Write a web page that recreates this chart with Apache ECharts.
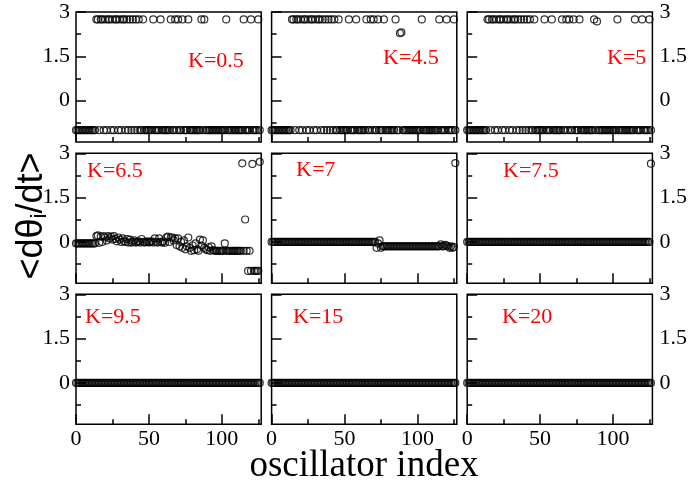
<!DOCTYPE html>
<html><head><meta charset="utf-8">
<script src="https://cdn.jsdelivr.net/npm/echarts@6/dist/echarts.min.js"></script>
<style>html,body{margin:0;padding:0;background:#fff}#c{width:688px;height:485px}</style>
</head><body><div id="c"></div>
<script>
// ---------------- data ----------------
const panelLabels = ['K=0.5','K=4.5','K=5','K=6.5','K=7','K=7.5','K=9.5','K=15','K=20'];
const xTickValues = [0, 50, 100];
const xMinorValues = [25, 75, 125];
const yTickValues = [0, 1.5, 3];
const yMinorValues = [-0.75, 0.75, 2.25];
const xMin = 0, xMax = 127, yMin = -1.4, yMax = 3;
const xTitle = 'oscillator index';

// oscillator indices 0..126
const oscIndex = [];
for (let i = 0; i < 127; i++) oscIndex.push(i);

// top row: two clusters (upper / lower); listed oscillators sit in the upper cluster
const upperLevel = 2.75, lowerLevel = -1.0;
const k05Upper = [14,15,17,18,20,22,23,25,27,28,30,32,33,35,37,39,41,43,46,53,58,65,68,70,73,77,86,88,103,115,120,125];
const k05MidIdx = [], k05MidVal = [];
const k45Upper = [14,15,17,18,20,22,23,25,27,28,30,32,33,35,37,39,41,43,46,53,58,65,68,70,73,77,85,103,115,120,125];
const k45MidIdx = [88, 89], k45MidVal = [2.28, 2.31];
const k5Upper  = [14,15,17,18,20,22,23,25,27,28,30,32,33,35,37,39,41,43,46,53,58,65,68,70,73,77,87,103,115,120,125];
const k5MidIdx = [89], k5MidVal = [2.68];

const k65 = [
 -0.05,-0.05,-0.05,-0.05,-0.05,-0.05,-0.05,-0.05,-0.05,-0.05,
 -0.05,-0.05,-0.05,-0.05,0.2,0.22,-0.03,0.18,0,0.2,
 0.15,0.05,0.2,0.12,0.18,0.08,0.2,0.1,0.02,0.15,
 0.08,0,0.12,0.02,0,0.1,-0.02,0.08,-0.02,0,
 0.05,-0.02,0,0.02,-0.02,0.1,0,-0.02,0,0.02,
 -0.02,0,0.02,-0.02,0.12,0,-0.02,0.12,0,-0.02,
 0.02,-0.03,0.15,0.18,0,0.15,0.15,0.05,0.12,-0.1,
 0.12,-0.15,0,-0.2,0.05,-0.25,-0.15,0.15,-0.2,-0.3,
 -0.12,-0.28,-0.05,-0.25,-0.3,0.08,-0.12,0.05,-0.2,-0.25,
 -0.28,-0.18,-0.3,-0.15,-0.28,-0.3,-0.3,-0.3,-0.3,-0.3,
 -0.3,-0.3,-0.05,-0.3,-0.3,-0.3,-0.3,-0.3,-0.3,-0.3,
 -0.3,-0.3,-0.3,-0.3,2.66,-0.3,0.76,-0.3,-0.98,-0.3,
 -0.98,2.64,-0.98,-0.98,-0.98,-0.98,2.71];

const k7 = [
 0,0,0,0,0,0,0,0,0,0,
 0,0,0,0,0,0,0,0,0,0,
 0,0,0,0,0,0,0,0,0,0,
 0,0,0,0,0,0,0,0,0,0,
 0,0,0,0,0,0,0,0,0,0,
 0,0,0,0,0,0,0,0,0,0,
 0,0,0,0,0,0,0,0,0,0,
 0,0,-0.2,-0.05,0.05,-0.2,-0.15,-0.15,-0.15,-0.15,
 -0.15,-0.15,-0.15,-0.15,-0.15,-0.15,-0.15,-0.15,-0.15,-0.15,
 -0.15,-0.15,-0.15,-0.15,-0.15,-0.15,-0.15,-0.15,-0.15,-0.15,
 -0.15,-0.15,-0.15,-0.15,-0.15,-0.15,-0.15,-0.15,-0.15,-0.15,
 -0.15,-0.15,-0.15,-0.15,-0.15,-0.15,-0.08,-0.15,-0.15,-0.1,
 -0.12,-0.15,-0.2,-0.15,-0.2,-0.17,2.67];

const k75 = [
 0,0,0,0,0,0,0,0,0,0,
 0,0,0,0,0,0,0,0,0,0,
 0,0,0,0,0,0,0,0,0,0,
 0,0,0,0,0,0,0,0,0,0,
 0,0,0,0,0,0,0,0,0,0,
 0,0,0,0,0,0,0,0,0,0,
 0,0,0,0,0,0,0,0,0,0,
 0,0,0,0,0,0,0,0,0,0,
 0,0,0,0,0,0,0,0,0,0,
 0,0,0,0,0,0,0,0,0,0,
 0,0,0,0,0,0,0,0,0,0,
 0,0,0,0,0,0,0,0,0,0,
 0,0,0,0,0,0,2.65];

// bottom row (K=9.5, 15, 20): all oscillators locked at 0
const lockedRow = [
 0,0,0,0,0,0,0,0,0,0,
 0,0,0,0,0,0,0,0,0,0,
 0,0,0,0,0,0,0,0,0,0,
 0,0,0,0,0,0,0,0,0,0,
 0,0,0,0,0,0,0,0,0,0,
 0,0,0,0,0,0,0,0,0,0,
 0,0,0,0,0,0,0,0,0,0,
 0,0,0,0,0,0,0,0,0,0,
 0,0,0,0,0,0,0,0,0,0,
 0,0,0,0,0,0,0,0,0,0,
 0,0,0,0,0,0,0,0,0,0,
 0,0,0,0,0,0,0,0,0,0,
 0,0,0,0,0,0,0];
const k95 = lockedRow, k15 = lockedRow, k20 = lockedRow;

// ---------------- build ----------------
function twoLevel(upper, midIdx, midVal) {
  return oscIndex.map(i => {
    const m = midIdx.indexOf(i);
    if (m >= 0) return [i, midVal[m]];
    return [i, upper.includes(i) ? upperLevel : lowerLevel];
  });
}
function pairs(vals) { return oscIndex.map(i => [i, vals[i]]); }

const panelData = [
  twoLevel(k05Upper, k05MidIdx, k05MidVal),
  twoLevel(k45Upper, k45MidIdx, k45MidVal),
  twoLevel(k5Upper, k5MidIdx, k5MidVal),
  pairs(k65), pairs(k7), pairs(k75),
  pairs(k95), pairs(k15), pairs(k20)
];

const SERIF = '"Liberation Serif","Times New Roman",serif';
const colLeft = [76, 271.6, 467.2];
const rowTop = [12, 153.3, 294.3];
const PW = 185.2, PH = 130;
const labelPos = [[188,61],[383,58],[607,58],[87,171],[296,170],[503,171.5],[85,317],[293,317.5],[502,317.5]];

const grids = [], xAxes = [], yAxes = [], series = [], graphics = [];
const tickStyle = {color:'#000', width:1.5};
const noLine = {show: false, onZero: false};
const lbl = (show, vals, margin) => ({show, customValues: vals, color:'#000', fontFamily: SERIF, fontSize: 22, margin});

for (let p = 0; p < 9; p++) {
  const r = Math.floor(p / 3), c = p % 3;
  grids.push({left: colLeft[c], top: rowTop[r], width: PW, height: PH, show: true,
    borderColor: '#000', borderWidth: 1.5, backgroundColor: 'rgba(0,0,0,0)', outerBoundsMode: 'none', containLabel: false});
}
for (let p = 0; p < 9; p++) {
  const r = Math.floor(p / 3), c = p % 3;
  grids.push({left: colLeft[c], top: rowTop[r], width: PW, height: PH, show: false, outerBoundsMode: 'none', containLabel: false});
}
// major axes
for (let p = 0; p < 9; p++) {
  const r = Math.floor(p / 3), c = p % 3;
  xAxes.push({gridIndex: p, type: 'value', position: 'bottom', min: xMin, max: xMax,
    axisLine: noLine, splitLine: {show: false},
    axisTick: {show: true, inside: true, length: 10, customValues: xTickValues, lineStyle: tickStyle},
    axisLabel: lbl(r === 2, xTickValues, 4)});
  yAxes.push({gridIndex: p, type: 'value', position: 'left', min: yMin, max: yMax,
    axisLine: noLine, splitLine: {show: false},
    axisTick: {show: true, inside: true, length: 10, customValues: yTickValues, lineStyle: tickStyle},
    axisLabel: lbl(c === 0, yTickValues, 6)});
}
// minor tick axes on overlay grids
for (let p = 0; p < 9; p++) {
  xAxes.push({gridIndex: 9 + p, type: 'value', position: 'bottom', min: xMin, max: xMax,
    axisLine: noLine, splitLine: {show: false},
    axisTick: {show: true, inside: true, length: 5, customValues: xMinorValues, lineStyle: tickStyle},
    axisLabel: {show: false}});
  yAxes.push({gridIndex: 9 + p, type: 'value', position: 'left', min: yMin, max: yMax,
    axisLine: noLine, splitLine: {show: false},
    axisTick: {show: true, inside: true, length: 5, customValues: yMinorValues, lineStyle: tickStyle},
    axisLabel: {show: false}});
}
// right-hand labels of the right column
for (let r = 0; r < 3; r++) {
  const p = r * 3 + 2;
  yAxes.push({gridIndex: p, type: 'value', position: 'right', min: yMin, max: yMax,
    axisLine: noLine, splitLine: {show: false}, axisTick: {show: false},
    axisLabel: lbl(true, yTickValues, 7)});
}

for (let p = 0; p < 9; p++) {
  series.push({type: 'scatter', xAxisIndex: p, yAxisIndex: p, data: panelData[p],
    symbol: 'circle', symbolSize: 7, clip: false, silent: true,
    itemStyle: {color: 'rgba(0,0,0,0)', borderColor: '#000', borderWidth: 1.2}});
  graphics.push({type: 'text', x: labelPos[p][0], y: labelPos[p][1], silent: true,
    style: {text: panelLabels[p], fill: '#ff0000', font: '22px ' + SERIF, align: 'left', verticalAlign: 'middle'}});
}
graphics.push({type: 'text', x: 364, y: 466, silent: true,
  style: {text: xTitle, fill: '#000', font: '37px ' + SERIF, align: 'center', verticalAlign: 'middle'}});
graphics.push({type: 'text', x: 32, y: 216, rotation: Math.PI / 2, silent: true,
  style: {text: '<dθ{s|i}/dt>', fill: '#000', font: '36px "Liberation Sans",Arial,sans-serif',
    align: 'center', verticalAlign: 'middle',
    rich: {s: {fontSize: 22, fontFamily: '"Liberation Sans",Arial,sans-serif', verticalAlign: 'bottom', padding: [16, 0, 0, 0]}}}});

const chart = echarts.init(document.getElementById('c'), null, {renderer: 'canvas'});
chart.setOption({
  animation: false, backgroundColor: '#fff',
  grid: grids, xAxis: xAxes, yAxis: yAxes, series, graphic: graphics
});
</script></body></html>
